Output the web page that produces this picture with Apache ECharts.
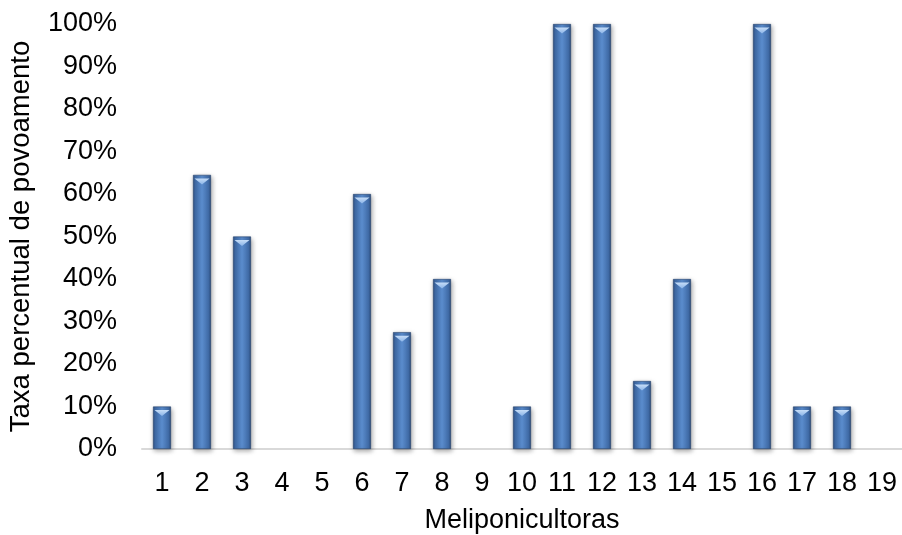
<!DOCTYPE html>
<html>
<head>
<meta charset="utf-8">
<script src="https://cdn.jsdelivr.net/npm/echarts@6/dist/echarts.min.js"></script>
<style>html,body{margin:0;padding:0;background:#fff}#c{width:902px;height:535px}</style>
</head>
<body>
<div id="c"></div>
<script>
var categories = ['1','2','3','4','5','6','7','8','9','10','11','12','13','14','15','16','17','18','19'];
var values = [10, 64.5, 50, 0, 0, 60, 27.5, 40, 0, 10, 100, 100, 16, 40, 0, 100, 10, 10, 0];
var yTicks = [0, 10, 20, 30, 40, 50, 60, 70, 80, 90, 100];

var chart = echarts.init(document.getElementById('c'));
var font = 'Liberation Sans, Arial, sans-serif';
var barGrad = new echarts.graphic.LinearGradient(0, 0, 1, 0, [
  {offset: 0, color: '#2c4f80'},
  {offset: 0.12, color: '#3f6aa6'},
  {offset: 0.5, color: '#5a8ccd'},
  {offset: 0.88, color: '#3f6aa6'},
  {offset: 1, color: '#2a4a78'}
]);
var shown = values.map(function (v) { return v > 0 ? v : '-'; });
chart.setOption({
  animation: false,
  grid: {left: 142, right: 0, top: 24, bottom: 86, containLabel: false, outerBoundsMode: 'none'},
  xAxis: {
    type: 'category',
    data: categories,
    name: 'Meliponicultoras',
    nameLocation: 'middle',
    nameGap: 58,
    nameTextStyle: {fontFamily: font, fontSize: 27, color: '#000'},
    axisLine: {lineStyle: {color: '#d9d9d9', width: 2}},
    axisTick: {show: false},
    axisLabel: {fontFamily: font, fontSize: 27, color: '#000', margin: 21, interval: 0}
  },
  yAxis: {
    type: 'value',
    min: 0, max: 100, interval: 10,
    name: 'Taxa percentual de povoamento',
    nameLocation: 'middle',
    nameGap: 107,
    nameTextStyle: {fontFamily: font, fontSize: 27.5, color: '#000'},
    axisLine: {show: false},
    axisTick: {show: false},
    splitLine: {show: false},
    axisLabel: {
      fontFamily: font, fontSize: 27, color: '#000', margin: 25,
      formatter: function (v) { return yTicks.indexOf(v) >= 0 ? v + '%' : ''; }
    }
  },
  series: [
    {
      type: 'bar',
      data: shown,
      barWidth: 18,
      itemStyle: {
        color: barGrad,
        borderColor: '#25426b',
        borderWidth: 0.6,
        shadowColor: 'rgba(0,0,0,0.35)',
        shadowBlur: 5,
        shadowOffsetX: 1,
        shadowOffsetY: 2
      }
    },
    {
      type: 'pictorialBar',
      data: shown,
      symbol: 'path://M0,0 L20,0 L10,7 Z',
      symbolSize: [15, 6],
      symbolPosition: 'end',
      symbolOffset: [0, '60%'],
      barGap: '-100%',
      z: 3,
      itemStyle: {
        color: new echarts.graphic.LinearGradient(0, 0, 0, 1, [
          {offset: 0, color: '#c5dcf7'},
          {offset: 1, color: '#8ab4e8'}
        ])
      }
    }
  ]
});
</script>
</body>
</html>
